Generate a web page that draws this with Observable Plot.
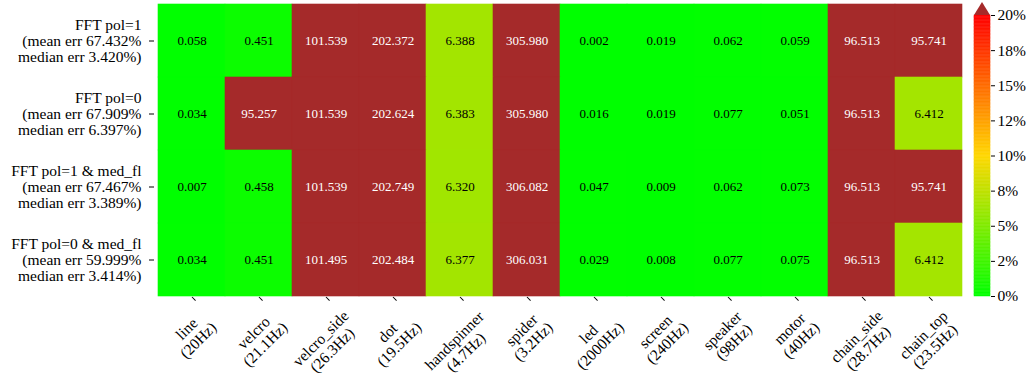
<!DOCTYPE html>
<html>
<head>
<meta charset="utf-8">
<script src="https://cdn.jsdelivr.net/npm/d3@7"></script>
<script src="https://cdn.jsdelivr.net/npm/@observablehq/plot@0.6"></script>
<style>
  html, body { margin: 0; padding: 0; background: #fff; }
  #chart { position: relative; width: 1034px; height: 376px; }
  #chart svg { position: absolute; top: 0; }
  #chart svg, #chart svg text { font-family: "Liberation Serif", "Times New Roman", serif !important; }
</style>
</head>
<body>
<div id="chart"></div>
<script>
// Test objects (columns) and their frequencies
const objectNames = ["line", "velcro", "velcro_side", "dot", "handspinner", "spider",
  "led", "screen", "speaker", "motor", "chain_side", "chain_top"];
const objectFreqs = ["20Hz", "21.1Hz", "26.3Hz", "19.5Hz", "4.7Hz", "3.2Hz",
  "2000Hz", "240Hz", "98Hz", "40Hz", "28.7Hz", "23.5Hz"];

// Methods (rows) and their summary statistics
const methodNames = ["FFT pol=1", "FFT pol=0", "FFT pol=1 & med_fl", "FFT pol=0 & med_fl"];
const meanErr = ["67.432", "67.909", "67.467", "59.999"];
const medianErr = ["3.420", "6.397", "3.389", "3.414"];

// Relative frequency error (%) per method and object
const errPol1 = [0.058, 0.451, 101.539, 202.372, 6.388, 305.980, 0.002, 0.019, 0.062, 0.059, 96.513, 95.741];
const errPol0 = [0.034, 95.257, 101.539, 202.624, 6.383, 305.980, 0.016, 0.019, 0.077, 0.051, 96.513, 6.412];
const errPol1Med = [0.007, 0.458, 101.539, 202.749, 6.320, 306.082, 0.047, 0.009, 0.062, 0.073, 96.513, 95.741];
const errPol0Med = [0.034, 0.451, 101.495, 202.484, 6.377, 306.031, 0.029, 0.008, 0.077, 0.075, 96.513, 6.412];

// Colour bar ticks
const cbarTicks = [0, 2.5, 5, 7.5, 10, 12.5, 15, 17.5, 20];
const cbarLabels = ["0%", "2%", "5%", "8%", "10%", "12%", "15%", "18%", "20%"];

const vmax = 20;
const overColor = "#a52a2a";
const colorOpts = {
  type: "linear",
  domain: [0, 10, 20, 20.0001, 1000],
  range: ["#00ff00", "#ffd700", "#ff0000", overColor, overColor],
  interpolate: "rgb",
  clamp: true
};

const series = [errPol1, errPol0, errPol1Med, errPol0Med];
const cells = methodNames.flatMap((m, i) =>
  objectNames.map((o, j) => ({method: m, object: o, value: series[i][j]})));

const methodLabel = new Map(methodNames.map((m, i) =>
  [m, `${m}\n(mean err ${meanErr[i]}%\nmedian err ${medianErr[i]}%)`]));
const objectLabel = new Map(objectNames.map((o, j) => [o, `${o}\n(${objectFreqs[j]})`]));

const fmt = d3.format(".3f");
const W = 1034, H = 376;
const font = "Liberation Serif, serif";
const labelSize = 15.5;

const heat = Plot.plot({
  width: W,
  height: H,
  marginLeft: 154,
  marginRight: 68,
  marginTop: 2,
  marginBottom: 79,
  style: {fontFamily: font, background: "transparent"},
  x: {domain: objectNames, padding: 0, label: null},
  y: {domain: methodNames, padding: 0, label: null},
  color: colorOpts,
  marks: [
    Plot.cell(cells, {x: "object", y: "method", fill: "value", stroke: "value", strokeWidth: 0.6, inset: 0}),
    Plot.text(cells.filter(d => d.value <= vmax), {x: "object", y: "method", text: d => fmt(d.value), fill: "black", fontSize: 13}),
    Plot.text(cells.filter(d => d.value > vmax), {x: "object", y: "method", text: d => fmt(d.value), fill: "white", fontSize: 13}),
    Plot.axisY({tickSize: 5, tickPadding: 8, fontSize: labelSize, lineHeight: 1.05, tickFormat: d => methodLabel.get(d), label: null}),
    Plot.axisX({tickSize: 5, fontSize: labelSize, rotate: -45, textAnchor: "middle", lineAnchor: "middle", lineHeight: 1.05, tickFormat: d => objectLabel.get(d), label: null})
  ]
});

// Colour bar on the right
const cbLeft = 974, cbTop = 15, cbBottom = 296, cbWidth = 16;
const cbW = 74;
const steps = d3.range(0, vmax, 0.1);
const tipExtent = vmax * 13 / (cbBottom - cbTop);
const tip = [{x: 0, y: vmax}, {x: 0.5, y: vmax + tipExtent}, {x: 1, y: vmax}];
const cbar = Plot.plot({
  width: cbW,
  height: H,
  marginLeft: cbLeft - (W - cbW),
  marginRight: cbW - (cbLeft - (W - cbW)) - cbWidth,
  marginTop: cbTop,
  marginBottom: H - cbBottom,
  style: {fontFamily: font, background: "transparent", overflow: "visible"},
  x: {domain: [0, 1], axis: null},
  y: {domain: [0, vmax], axis: null},
  color: colorOpts,
  marks: [
    Plot.rect(steps, {x1: () => 0, x2: () => 1, y1: d => d, y2: d => Math.min(vmax, d + 0.1), fill: d => d + 0.05, stroke: d => d + 0.05, strokeWidth: 0.5}),
    Plot.areaY(tip, {x: "x", y1: () => vmax, y2: "y", fill: overColor}),
    Plot.axisY({anchor: "right", ticks: cbarTicks, tickFormat: d => cbarLabels[cbarTicks.indexOf(d)], tickSize: 4, tickPadding: 3, fontSize: labelSize, label: null})
  ]
});

const root = document.getElementById("chart");
heat.style.left = "0px";
cbar.style.left = (W - cbW) + "px";
root.appendChild(heat);
root.appendChild(cbar);

// Place the rotated x tick labels so each rotated block hangs centred below its tick
function placeXLabels() {
  const xs = heat.scale("x");
  const svgRect = heat.getBoundingClientRect();
  const labels = heat.querySelectorAll('g[aria-label="x-axis tick label"] text');
  labels.forEach((t, i) => {
    if (!t.dataset.t0) t.dataset.t0 = t.getAttribute("transform") || "";
    t.setAttribute("transform", t.dataset.t0);
    const r = t.getBoundingClientRect();
    const cx = xs.apply(objectNames[i]) + xs.bandwidth / 2 + 1;
    const top = 307;
    const dx = cx - (r.left - svgRect.left + r.width / 2);
    const dy = top - (r.top - svgRect.top);
    t.setAttribute("transform", `translate(${dx},${dy}) ${t.dataset.t0}`);
  });
}
placeXLabels();
if (document.fonts) document.fonts.ready.then(placeXLabels);
</script>
</body>
</html>
